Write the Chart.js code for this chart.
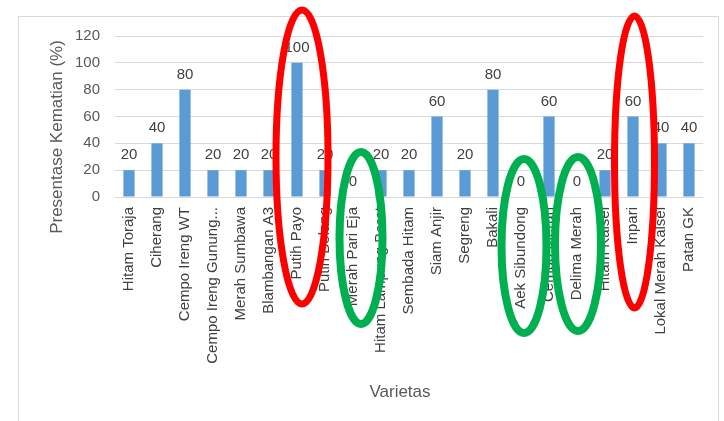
<!DOCTYPE html>
<html>
<head>
<meta charset="utf-8">
<script src="https://cdn.jsdelivr.net/npm/chart.js@4/dist/chart.umd.min.js"></script>
<style>
  html, body { margin: 0; padding: 0; background: #ffffff; }
  #wrap { width: 724px; height: 421px; position: relative; }
</style>
</head>
<body>
<div id="wrap"><canvas id="chart" width="724" height="421"></canvas></div>
<script>
// Rice varieties tested
const varieties = [
  'Hitam Toraja', 'Ciherang', 'Cempo Ireng WT', 'Cempo Ireng Gunung...',
  'Merah Sumbawa', 'Blambangan A3', 'Putih Payo', 'Putih Belang',
  'Merah Pari Eja', 'Hitam Lampung Barat', 'Sembada Hitam', 'Siam Anjir',
  'Segreng', 'Bakali', 'Aek Sibundong', 'Cempo Merah', 'Delima Merah',
  'Hitam Kalsel', 'Inpari', 'Lokal Merah Kalsel', 'Patan GK'
];

// Mortality percentage per variety
const mortality = [20, 40, 80, 20, 20, 20, 100, 20, 0, 20, 20, 60, 20, 80, 0, 60, 0, 20, 60, 40, 40];

// Value axis ticks
const yMin = 0;
const yMax = 120;
const yStep = 20;

// Axis titles
const yTitle = 'Presentase Kematian (%)';
const xTitle = 'Varietas';

// Varieties circled as highest (red) and lowest (green) mortality
const highlightHigh = ['Putih Payo', 'Inpari'];
const highlightLow = ['Merah Pari Eja', 'Aek Sibundong', 'Delima Merah'];

const FONT = '"Liberation Sans", Arial, sans-serif';

// Outer frame of the chart
const framePlugin = {
  id: 'frame',
  beforeDraw(chart) {
    const ctx = chart.ctx;
    ctx.save();
    ctx.fillStyle = '#ffffff';
    ctx.fillRect(0, 0, chart.width, chart.height);
    ctx.strokeStyle = '#d9d9d9';
    ctx.lineWidth = 1;
    ctx.strokeRect(18.5, 16.5, 700, chart.height + 10);
    ctx.restore();
  }
};

// Value labels above bars
const valueLabelPlugin = {
  id: 'valueLabels',
  afterDatasetsDraw(chart) {
    const ctx = chart.ctx;
    const meta = chart.getDatasetMeta(0);
    ctx.save();
    ctx.font = '15px ' + FONT;
    ctx.fillStyle = '#404040';
    ctx.textAlign = 'center';
    ctx.textBaseline = 'alphabetic';
    meta.data.forEach((bar, i) => {
      ctx.fillText(String(mortality[i]), bar.x, bar.y - 11);
    });
    ctx.restore();
  }
};

// Axis titles
const axisTitlePlugin = {
  id: 'axisTitles',
  afterDraw(chart) {
    const ctx = chart.ctx;
    const a = chart.chartArea;
    ctx.save();
    ctx.font = '17px ' + FONT;
    ctx.fillStyle = '#595959';
    ctx.textAlign = 'center';
    ctx.textBaseline = 'middle';
    ctx.translate(a.left - 58, a.top + 101);
    ctx.rotate(-Math.PI / 2);
    ctx.fillText(yTitle, 0, 0);
    ctx.restore();
    ctx.save();
    ctx.font = '17px ' + FONT;
    ctx.fillStyle = '#595959';
    ctx.textAlign = 'center';
    ctx.textBaseline = 'middle';
    ctx.fillText(xTitle, (a.left + a.right) / 2 - 9, a.bottom + 195);
    ctx.restore();
  }
};

// Hand-drawn style ovals around highlighted varieties
const ovalPlugin = {
  id: 'ovals',
  afterDraw(chart) {
    const ctx = chart.ctx;
    const x = chart.scales.x;
    const a = chart.chartArea;
    const draw = (name, color, width, dx, cyOff, rx, ry) => {
      const idx = varieties.indexOf(name);
      const cx = x.getPixelForValue(idx) + dx;
      ctx.save();
      ctx.strokeStyle = color;
      ctx.lineWidth = width;
      ctx.beginPath();
      ctx.ellipse(cx, a.bottom + cyOff, rx, ry, 0, 0, Math.PI * 2);
      ctx.stroke();
      ctx.restore();
    };
    draw(highlightHigh[0], '#ff0000', 7, 5, -40, 26, 147);
    draw(highlightHigh[1], '#ff0000', 7, 1.5, -35, 20, 146);
    draw(highlightLow[0], '#00b050', 8, 8, 41, 21.5, 86);
    draw(highlightLow[1], '#00b050', 8, 3, 49, 22.5, 87);
    draw(highlightLow[2], '#00b050', 8, 1, 47, 23, 87);
  }
};

new Chart(document.getElementById('chart'), {
  type: 'bar',
  data: {
    labels: varieties,
    datasets: [{
      data: mortality,
      backgroundColor: '#5b9bd5',
      borderWidth: 0,
      barPercentage: 0.4,
      categoryPercentage: 1.0
    }]
  },
  options: {
    responsive: false,
    animation: false,
    devicePixelRatio: 1,
    layout: { padding: { top: 36, right: 21, left: 0, bottom: 0 } },
    plugins: {
      legend: { display: false },
      tooltip: { enabled: false }
    },
    scales: {
      x: {
        grid: { display: false, drawTicks: false },
        border: { display: false },
        ticks: {
          autoSkip: false,
          maxRotation: 90,
          minRotation: 90,
          padding: 10,
          color: '#404040',
          font: { family: FONT, size: 15 }
        },
        afterFit(scale) { scale.height = 224; }
      },
      y: {
        min: yMin,
        max: yMax,
        grid: { color: '#d9d9d9', drawTicks: false },
        border: { display: false },
        ticks: {
          stepSize: yStep,
          padding: 15,
          color: '#595959',
          font: { family: FONT, size: 15 }
        },
        afterFit(scale) { scale.width = 115; }
      }
    }
  },
  plugins: [framePlugin, valueLabelPlugin, axisTitlePlugin, ovalPlugin]
});
</script>
</body>
</html>
